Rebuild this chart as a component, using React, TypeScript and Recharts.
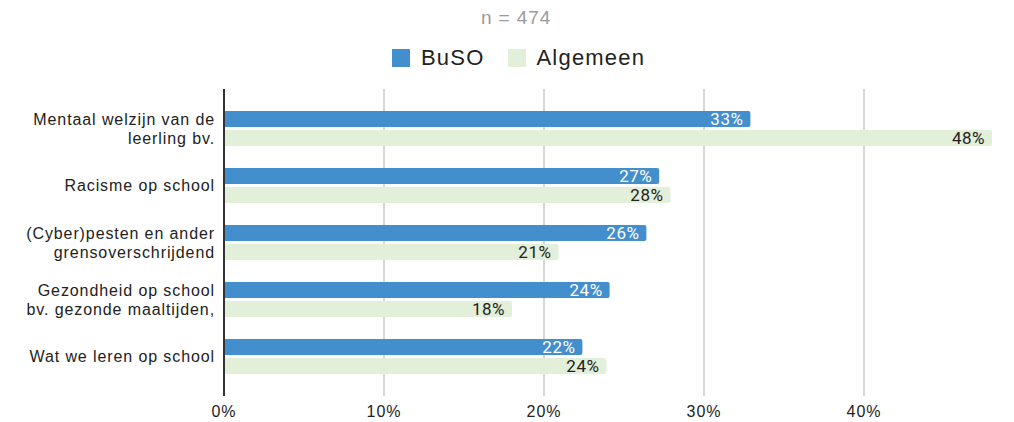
import { BarChart, Bar, XAxis, YAxis, CartesianGrid, LabelList } from "recharts";

const categories = [
  "Mentaal welzijn van de\nleerling bv.",
  "Racisme op school",
  "(Cyber)pesten en ander\ngrensoverschrijdend",
  "Gezondheid op school\nbv. gezonde maaltijden,",
  "Wat we leren op school",
];
const buso = [32.9, 27.2, 26.4, 24.1, 22.4];
const algemeen = [48, 27.9, 20.9, 18, 23.9];
const xTicks = [0, 10, 20, 30, 40];
const xMax = 48;

const data = categories.map((name, i) => ({ name, buso: buso[i], algemeen: algemeen[i] }));

const BLUE = "#438ecd";
const GREEN = "#e2efd9";
const FONT = "'Liberation Sans', Arial, sans-serif";

function CategoryTick({ x, y, payload }: any) {
  const lines: string[] = String(payload.value).split("\n");
  const lh = 19;
  return (
    <text x={x - 9} y={y} textAnchor="end" fontSize={16} fill="#222" fontFamily={FONT} letterSpacing={0.9}>
      {lines.map((line, i) => (
        <tspan key={i} x={x - 9} dy={i === 0 ? -((lines.length - 1) * lh) / 2 + 5.5 : lh}>
          {line}
        </tspan>
      ))}
    </text>
  );
}

const pct = (v: any) => `${Math.round(Number(v))}%`;

// only draw grid lines at the labelled ticks (no line at the domain end)
const gridX = ({ xAxis, offset }: any) =>
  xTicks.map((t) =>
    typeof xAxis?.scale === "function" ? xAxis.scale(t) : offset.left + (t / xMax) * offset.width
  );

export default function App() {
  return (
    <div style={{ position: "absolute", left: 0, top: 0, width: 1014, height: 422, background: "#fff" }}>
      <div
        style={{
          position: "absolute",
          top: 7,
          left: 9,
          width: "100%",
          textAlign: "center",
          fontFamily: FONT,
          fontSize: 19,
          letterSpacing: 0.9,
          color: "#9a9a9a",
        }}
      >
        n = 474
      </div>
      <div
        style={{
          position: "absolute",
          top: 45,
          left: 392,
          display: "flex",
          alignItems: "center",
          fontFamily: FONT,
          fontSize: 22,
          letterSpacing: 1.2,
          color: "#222",
        }}
      >
        <span style={{ width: 18, height: 18, background: BLUE, display: "inline-block", marginRight: 11 }} />
        <span style={{ marginRight: 23 }}>BuSO</span>
        <span style={{ width: 18, height: 18, background: GREEN, display: "inline-block", marginRight: 11 }} />
        <span>Algemeen</span>
      </div>
      <BarChart
        width={1014}
        height={422}
        data={data}
        layout="vertical"
        margin={{ top: 89, right: 22, bottom: 0, left: 0 }}
        barSize={16}
        barGap={3}
      >
        <CartesianGrid
          horizontal={false}
          stroke="#c8c8c8"
          strokeWidth={1.5}
          verticalCoordinatesGenerator={gridX}
        />
        <XAxis
          type="number"
          domain={[0, xMax]}
          ticks={xTicks}
          tickFormatter={(v) => `${v}%`}
          axisLine={false}
          tickLine={false}
          tickSize={0}
          tickMargin={10}
          height={26}
          tick={{ fontSize: 16, fill: "#222", fontFamily: FONT, letterSpacing: 1 }}
        />
        <YAxis
          type="category"
          dataKey="name"
          width={224}
          padding={{ top: 11, bottom: 11 }}
          tickLine={false}
          tickSize={0}
          tickMargin={0}
          axisLine={{ stroke: "#333", strokeWidth: 2 }}
          tick={<CategoryTick />}
          interval={0}
        />
        <Bar dataKey="buso" fill={BLUE} radius={[0, 2, 2, 0]} isAnimationActive={false}>
          <LabelList
            dataKey="buso"
            position="insideRight"
            offset={7}
            formatter={pct}
            fill="#fff"
            fontSize={17}
            letterSpacing={0.5}
            fontFamily="Roboto, sans-serif"
          />
        </Bar>
        <Bar dataKey="algemeen" fill={GREEN} radius={[0, 2, 2, 0]} isAnimationActive={false}>
          <LabelList
            dataKey="algemeen"
            position="insideRight"
            offset={7}
            formatter={pct}
            fill="#222"
            fontSize={17}
            letterSpacing={0.5}
            fontFamily="Roboto, sans-serif"
          />
        </Bar>
      </BarChart>
    </div>
  );
}
